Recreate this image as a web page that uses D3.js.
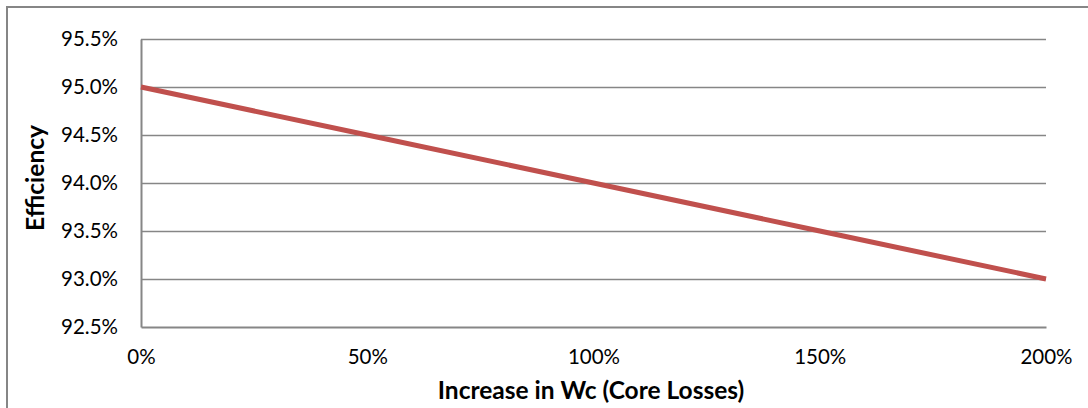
<!DOCTYPE html>
<html>
<head>
<meta charset="utf-8">
<script src="https://cdn.jsdelivr.net/npm/d3@7"></script>
<style>
  html, body { margin: 0; padding: 0; background: #fff; }
  svg { display: block; }
  text { font-family: Lato, "Open Sans", sans-serif; fill: #000; }
</style>
</head>
<body>
<svg id="chart" width="1088" height="408"></svg>
<script>
// Core-loss increase (fraction of nominal) and resulting efficiency
const coreLossIncrease = [0, 0.5, 1.0, 1.5, 2.0];
const efficiency = [0.950, 0.945, 0.940, 0.935, 0.930];
const xTicks = [0, 0.5, 1.0, 1.5, 2.0];
const yTicks = [0.925, 0.930, 0.935, 0.940, 0.945, 0.950, 0.955];
const xTitle = "Increase in Wc (Core Losses)";
const yTitle = "Efficiency";

const svg = d3.select("#chart");
const W = 1088, H = 408;
const plot = { left: 141, top: 39, right: 1046, bottom: 327 };
const gray = "#868686";
const font = "Lato, 'Open Sans', sans-serif";

// Outer chart frame (extends past the window on the right and bottom)
svg.append("path")
  .attr("d", `M7,${H + 5} V7 H${W + 5}`)
  .attr("fill", "none")
  .attr("stroke", gray)
  .attr("stroke-width", 2);

const x = d3.scaleLinear().domain([0, 2]).range([plot.left, plot.right]);
const y = d3.scaleLinear().domain([0.925, 0.955]).range([plot.bottom, plot.top]);

// Horizontal gridlines
svg.append("g")
  .selectAll("line")
  .data(yTicks.slice(1))
  .join("line")
  .attr("x1", plot.left).attr("x2", plot.right)
  .attr("y1", d => Math.round(y(d)) + 0.5).attr("y2", d => Math.round(y(d)) + 0.5)
  .attr("stroke", gray).attr("stroke-width", 1.5);

// Y axis
const yAxis = svg.append("g")
  .attr("transform", `translate(${plot.left},0)`)
  .call(d3.axisLeft(y).tickValues(yTicks).tickSize(0).tickPadding(23)
    .tickFormat(d3.format(".1%")));
yAxis.select(".domain").attr("stroke", gray).attr("stroke-width", 2);
yAxis.selectAll("text").attr("font-size", 20.5).attr("font-family", font);

// X axis
const xAxis = svg.append("g")
  .attr("transform", `translate(0,${plot.bottom})`)
  .call(d3.axisBottom(x).tickValues(xTicks).tickSize(0).tickPadding(22)
    .tickFormat(d3.format(".0%")));
xAxis.select(".domain").attr("stroke", gray).attr("stroke-width", 2);
xAxis.selectAll("text").attr("font-size", 20.5).attr("font-family", font);

// Efficiency line
const line = d3.line()
  .x((d, i) => x(coreLossIncrease[i]))
  .y(d => y(d));
svg.append("path")
  .datum(efficiency)
  .attr("d", line)
  .attr("fill", "none")
  .attr("stroke", "#C0504D")
  .attr("stroke-width", 5)
  .attr("stroke-linejoin", "round");

// Axis titles
svg.append("text")
  .attr("x", 591)
  .attr("y", 399)
  .attr("text-anchor", "middle")
  .attr("font-size", 24.5)
  .attr("font-weight", "bold")
  .text(xTitle);

svg.append("text")
  .attr("transform", `translate(44,178) rotate(-90)`)
  .attr("text-anchor", "middle")
  .attr("font-size", 24.5)
  .attr("font-weight", "bold")
  .text(yTitle);
</script>
</body>
</html>
